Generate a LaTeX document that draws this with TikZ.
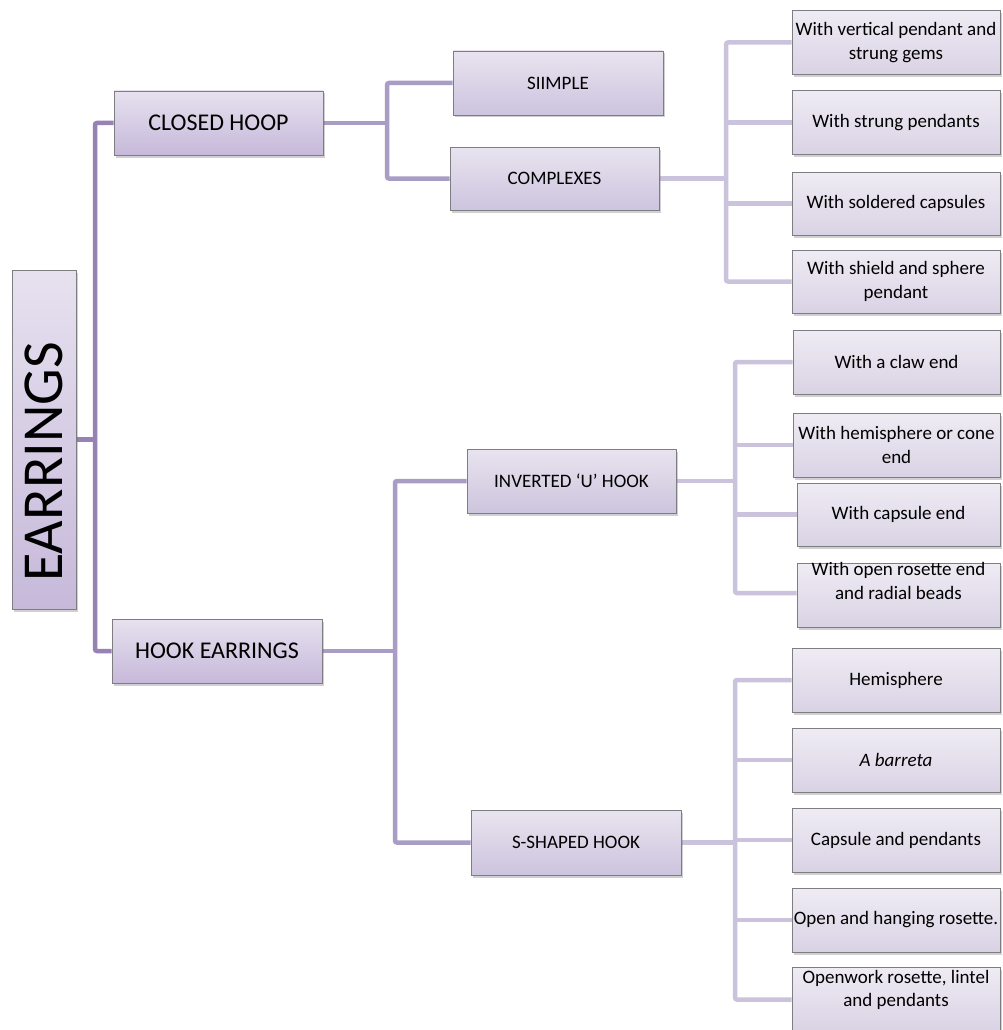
\documentclass[tikz,border=0pt]{standalone}
\usepackage{fontspec}
\setmainfont{Carlito}
\usetikzlibrary{shadows,backgrounds}
\definecolor{bord}{HTML}{7E7E82}
\definecolor{topA}{HTML}{E7E1EF}
\definecolor{botA}{HTML}{C6B9DA}
\definecolor{topB}{HTML}{E8E4EF}
\definecolor{botB}{HTML}{CDC4DE}
\definecolor{topC}{HTML}{EFECF4}
\definecolor{botC}{HTML}{D9D2E4}
\definecolor{lineA}{HTML}{9782B4}
\definecolor{lineB}{HTML}{A99CC5}
\definecolor{lineC}{HTML}{CBC2DB}
\tikzset{
  box/.style={draw=bord, line width=0.8pt, rectangle, align=center, inner sep=0pt,
    drop shadow={shadow xshift=1.5pt, shadow yshift=-2.5pt, opacity=0.3, fill=black!60}},
  boxA/.style={box, top color=topA, bottom color=botA, font=\fontsize{24}{28.8}\selectfont},
  boxB/.style={box, top color=topB, bottom color=botB, minimum width=209, minimum height=64, font=\fontsize{19}{23.5}\selectfont},
  boxC/.style={box, top color=topC, bottom color=botC, minimum width=208, minimum height=64, font=\fontsize{19}{23.5}\selectfont},
  txtC/.style={align=center, inner sep=0pt, font=\fontsize{19}{23.5}\selectfont},
  conA/.style={draw=lineA, line width=4.5pt, rounded corners=2},
  conB/.style={draw=lineB, line width=4.5pt, rounded corners=2},
  conC/.style={draw=lineC, line width=4.5pt, rounded corners=2}
}
\begin{document}
\begin{tikzpicture}[x=1pt,y=-1pt]
\useasboundingbox (0,0) rectangle (1002,1030);
% level 0 and 1
\node[boxA, minimum width=64, minimum height=339] (earr) at (44,439.5) {};
\node[inner sep=0pt, font=\fontsize{58}{60}\selectfont, rotate=90] (earrt) at (44,462) {EARRINGS};
\node[boxA, minimum width=209, minimum height=64] (cl) at (218.5,123) {CLOSED HOOP};
\node[boxA, minimum width=210, minimum height=64] (hk) at (217,651) {HOOK EARRINGS};
% level 2
\node[boxB, minimum width=210] (si) at (558,83) {SIIMPLE};
\node[boxB, minimum height=63] (co) at (554.5,178.5) {COMPLEXES};
\node[boxB] (iu) at (571.5,481) {INVERTED ‘U’ HOOK};
\node[boxB, minimum width=210, minimum height=65] (ss) at (576,842.5) {S-SHAPED HOOK};
% level 3: closed hoop complexes
\node[boxC] (a1) at (896,42.5) {With vertical pendant and\\strung gems};
\node[boxC] (a2) at (896,122.5) {With strung pendants};
\node[boxC, minimum height=63] (a3) at (896,203.5) {With soldered capsules};
\node[boxC, minimum height=63] (a4) at (896,281.5) {With shield and sphere\\pendant};
% level 3: inverted U hook
\node[boxC, minimum width=207] (b1) at (896.5,362) {With a claw end};
\node[boxC, minimum width=207] (b2) at (896.5,445) {With hemisphere or cone\\end};
\node[boxC, minimum width=203, minimum height=63] (b3) at (898.5,514.5) {With capsule end};
\node[boxC, minimum width=203] (b4) at (898.5,595) {};
\node[txtC] (b4t) at (898.5,581) {With open rosette end\\and radial beads};
% level 3: S-shaped hook
\node[boxC] (c1) at (896,680) {Hemisphere};
\node[boxC] (c2) at (896,760) {\textit{A barreta}};
\node[boxC] (c3) at (896,840) {Capsule and pendants};
\node[boxC] (c4) at (896,920) {Open and hanging rosette.};
\node[boxC, minimum height=65] (c5) at (896,999.5) {};
\node[txtC] (c5t) at (896,990) {Openwork rosette, lintel\\and pendants};
% junctions
\coordinate (j0) at (95,439.5);
\coordinate (j1) at (387,123);
\coordinate (j2) at (395,651);
\coordinate (j3) at (726,178.5);
\coordinate (j4) at (735,481);
\coordinate (j5) at (735,842.5);
\begin{scope}[on background layer]
\fill[white] (0,0) rectangle (1002,1030);
\draw[conA] (earr.east) -- (j0);
\draw[conA] (cl.west) -| (j0) |- (hk.west);
\draw[conB] (cl.east) -- (j1);
\draw[conB] (si.west) -| (j1) |- (co.west);
\draw[conB] (hk.east) -- (j2);
\draw[conB] (iu.west) -| (j2) |- (ss.west);
\draw[conC] (co.east) -- (j3);
\draw[conC] (a1.west) -| (j3) |- (a4.west);
\draw[conC] (a2.west) -- (a2.west -| j3);
\draw[conC] (a3.west) -- (a3.west -| j3);
\draw[conC] (iu.east) -- (j4);
\draw[conC] (b1.west) -| (j4) |- ([yshift=2pt]b4.west);
\draw[conC] (b2.west) -- (b2.west -| j4);
\draw[conC] (b3.west) -- (b3.west -| j4);
\draw[conC] (ss.east) -- (j5);
\draw[conC] (c1.west) -| (j5) |- (c5.west);
\draw[conC] (c2.west) -- (c2.west -| j5);
\draw[conC] (c3.west) -- (c3.west -| j5);
\draw[conC] (c4.west) -- (c4.west -| j5);
\end{scope}
\end{tikzpicture}
\end{document}
